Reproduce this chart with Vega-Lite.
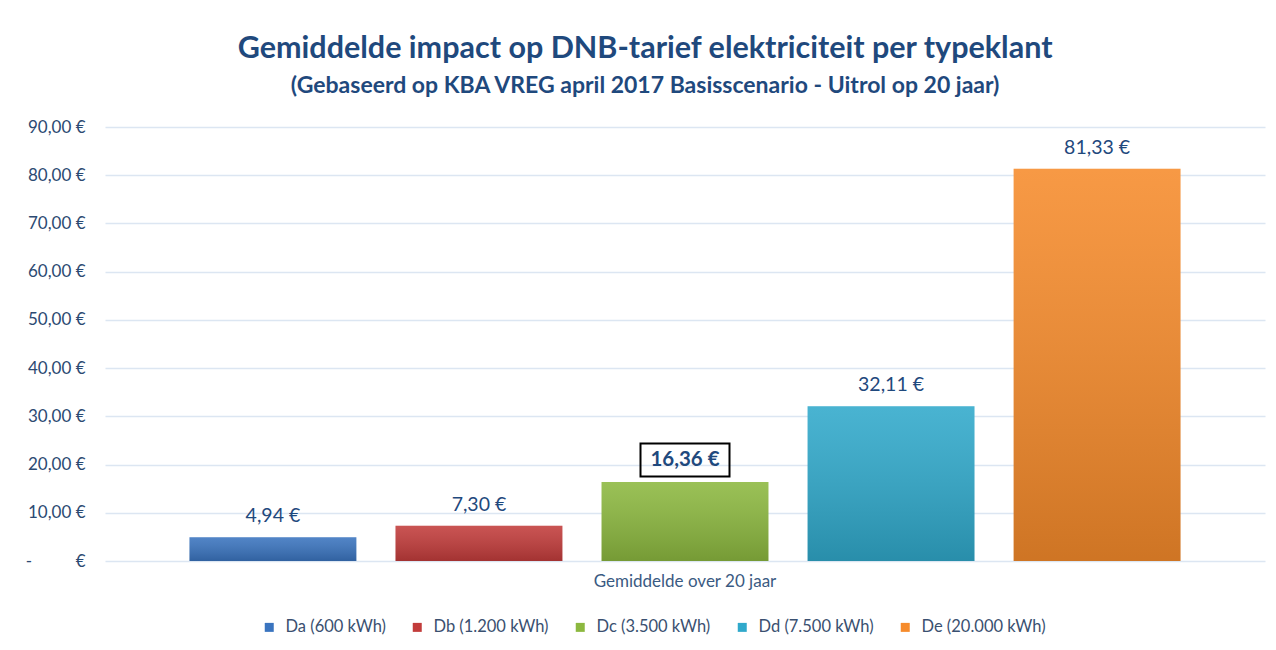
{
  "$schema": "https://vega.github.io/schema/vega-lite/v6.json",
  "autosize": "none",
  "width": 1160,
  "height": 434,
  "padding": {"left": 105, "right": 11, "top": 127, "bottom": 89},
  "background": "white",
  "config": {
    "font": "Lato",
    "view": {"stroke": null},
    "locale": {"number": {"decimal": ",", "thousands": ".", "grouping": [3], "currency": ["", " €"]}}
  },
  "title": {
    "text": "Gemiddelde impact op DNB-tarief elektriciteit per typeklant",
    "subtitle": "(Gebaseerd op KBA VREG april 2017 Basisscenario - Uitrol op 20 jaar)",
    "anchor": "middle",
    "frame": "bounds",
    "font": "Lato",
    "fontSize": 30.5,
    "fontWeight": "bold",
    "color": "#1f497d",
    "subtitleFont": "Lato",
    "subtitleFontSize": 23,
    "subtitleFontWeight": "bold",
    "subtitleColor": "#1f497d",
    "subtitlePadding": 11,
    "offset": 20
  },
  "data": {
    "values": [
      {"periode": "Gemiddelde over 20 jaar", "klant": "Da (600 kWh)", "waarde": 4.94, "nadruk": false},
      {"periode": "Gemiddelde over 20 jaar", "klant": "Db (1.200 kWh)", "waarde": 7.30, "nadruk": false},
      {"periode": "Gemiddelde over 20 jaar", "klant": "Dc (3.500 kWh)", "waarde": 16.36, "nadruk": true},
      {"periode": "Gemiddelde over 20 jaar", "klant": "Dd (7.500 kWh)", "waarde": 32.11, "nadruk": false},
      {"periode": "Gemiddelde over 20 jaar", "klant": "De (20.000 kWh)", "waarde": 81.33, "nadruk": false}
    ]
  },
  "encoding": {
    "x": {
      "field": "periode",
      "type": "nominal",
      "scale": {"paddingInner": 0, "paddingOuter": 0.063},
      "axis": {
        "title": null,
        "labelAngle": 0,
        "ticks": false,
        "domain": false,
        "labelPadding": 12,
        "labelFontSize": 17,
        "labelLimit": 0,
        "labelColor": "#3a5a82",
        "labelFont": "Lato"
      }
    },
    "xOffset": {
      "field": "klant",
      "type": "nominal",
      "scale": {"paddingInner": 0.19, "paddingOuter": 0.095}
    },
    "y": {
      "field": "waarde",
      "type": "quantitative",
      "scale": {"domain": [0, 90], "nice": false},
      "axis": {
        "title": null,
        "values": [0, 10, 20, 30, 40, 50, 60, 70, 80, 90],
        "format": "$.2f",
        "labelExpr": "datum.value == 0 ? '-\u00a0\u00a0\u00a0\u00a0\u00a0\u00a0\u00a0\u00a0\u00a0\u00a0€' : datum.label",
        "ticks": false,
        "domain": false,
        "labelPadding": 20,
        "labelFontSize": 17,
        "labelColor": "#2c4a72",
        "labelFont": "Lato",
        "gridColor": "#dce6f2",
        "gridWidth": 1.5
      }
    }
  },
  "layer": [
    {
      "mark": {"type": "bar"},
      "encoding": {
        "color": {
          "field": "klant",
          "type": "nominal",
          "scale": {
            "domain": ["Da (600 kWh)", "Db (1.200 kWh)", "Dc (3.500 kWh)", "Dd (7.500 kWh)", "De (20.000 kWh)"],
            "range": ["#3a74bf", "#c23c3b", "#8cb83f", "#30a9cb", "#f68b2b"]
          },
          "legend": {
            "title": null,
            "orient": "none",
            "legendX": 156,
            "legendY": 492,
            "direction": "horizontal",
            "symbolType": "square",
            "symbolSize": 81,
            "symbolStrokeWidth": 0,
            "labelFontSize": 16.5,
            "labelOffset": 8,
            "labelColor": "#3a5070",
            "labelFont": "Lato",
            "columnPadding": 23
          }
        }
      }
    },
    {
      "mark": {
        "type": "bar",
        "color": {
          "gradient": "linear",
          "x1": 0, "y1": 0, "x2": 0, "y2": 1,
          "stops": [
            {"offset": 0, "color": "rgba(255,255,255,0.12)"},
            {"offset": 1, "color": "rgba(0,0,0,0.16)"}
          ]
        }
      }
    },
    {
      "transform": [{"filter": "!datum.nadruk"}],
      "mark": {"type": "text", "fontSize": 19.5, "color": "#1f497d", "baseline": "middle", "yOffset": -21, "font": "Lato"},
      "encoding": {"text": {"field": "waarde", "type": "quantitative", "format": "$.2f"}}
    },
    {
      "transform": [{"filter": "datum.nadruk"}],
      "mark": {"type": "text", "fontSize": 20.5, "fontWeight": "bold", "color": "#1f497d", "baseline": "middle", "yOffset": -22, "font": "Lato"},
      "encoding": {"text": {"field": "waarde", "type": "quantitative", "format": "$.2f"}}
    },
    {
      "transform": [{"filter": "datum.nadruk"}],
      "mark": {
        "type": "point",
        "shape": "M-1,-0.371H1V0.371H-1Z",
        "size": 7921,
        "filled": false,
        "stroke": "#000000",
        "strokeWidth": 2,
        "opacity": 1,
        "yOffset": -22
      }
    }
  ]
}
